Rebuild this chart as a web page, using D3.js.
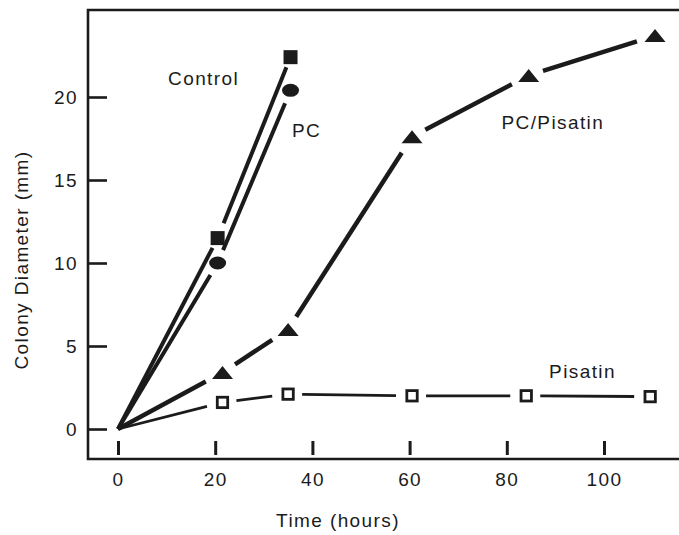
<!DOCTYPE html>
<html>
<head>
<meta charset="utf-8">
<script src="https://cdn.jsdelivr.net/npm/d3@7"></script>
<style>
  body { margin: 0; background: #fff; }
  svg { display: block; font-family: "Liberation Sans", Arial, Helvetica, sans-serif; }
  text { fill: #1b1b1b; letter-spacing: 1.4px; }
</style>
</head>
<body>
<div id="chart"></div>
<script>
// values (time in hours, colony diameter in mm)
const controlTime = [0, 20.5, 35.5]
const controlDiam = [0, 11.5, 22.4]
const pcTime = [0, 20.5, 35.5]
const pcDiam = [0, 10.0, 20.4]
const pcPisatinTime = [0, 21.5, 35, 60.5, 84.5, 110.5]
const pcPisatinDiam = [0, 3.4, 6.0, 17.6, 21.3, 23.7]
const pisatinTime = [0, 21.5, 35, 60.5, 84, 109.5]
const pisatinDiam = [0, 1.6, 2.1, 2.0, 2.0, 1.95]

const xTicks = [0, 20, 40, 60, 80, 100]
const yTicks = [0, 5, 10, 15, 20]

// series labels, placed in data units
const labelNames = ['Control', 'PC', 'PC/Pisatin', 'Pisatin']
const labelTime = [10.3, 35.8, 78.9, 88.7]
const labelDiam = [20.7, 17.6, 18.1, 3.1]

const W = 679, H = 535
const ink = '#1b1b1b'

const svg = d3.select('#chart').append('svg')
  .attr('width', W)
  .attr('height', H)

const x = d3.scaleLinear().domain([0, 100]).range([118, 604])
const y = d3.scaleLinear().domain([0, 20]).range([429, 97])

// frame: left, top and bottom (the right side runs off the page)
const frameLeft = 88, frameTop = 10, frameBottom = 459
svg.append('path')
  .attr('d', `M${W},${frameTop}H${frameLeft}V${frameBottom}H${W}`)
  .attr('fill', 'none')
  .attr('stroke', ink)
  .attr('stroke-width', 2.6)

// y axis, ticks pointing into the plot
const yAxis = svg.append('g')
  .attr('transform', `translate(${frameLeft},0)`)
  .call(d3.axisLeft(y).tickValues(yTicks).tickSizeInner(-19).tickSizeOuter(0).tickPadding(10))
yAxis.select('.domain').remove()
yAxis.selectAll('.tick line').attr('stroke', ink).attr('stroke-width', 2.6)
yAxis.selectAll('.tick text').attr('font-size', 19).attr('fill', ink).attr('font-family', null)

// x axis, short ticks floating just above the bottom line
const xAxis = svg.append('g')
  .attr('transform', 'translate(0,455)')
  .call(d3.axisBottom(x).tickValues(xTicks).tickSizeInner(-14).tickSizeOuter(0).tickPadding(17.5))
xAxis.select('.domain').remove()
xAxis.selectAll('.tick line').attr('stroke', ink).attr('stroke-width', 3)
xAxis.selectAll('.tick text').attr('font-size', 19).attr('fill', ink).attr('font-family', null)

// axis titles
svg.append('text')
  .attr('x', 338).attr('y', 527)
  .attr('text-anchor', 'middle')
  .attr('font-size', 19)
  .text('Time (hours)')

svg.append('text')
  .attr('transform', 'translate(28,260) rotate(-90)')
  .attr('text-anchor', 'middle')
  .attr('font-size', 19)
  .text('Colony Diameter (mm)')

// line segments are broken just short of every marker
function drawSeries(times, diams, width, gapA, gapB) {
  const pts = times.map((t, i) => [x(t), y(diams[i])])
  const segs = []
  for (let i = 0; i < pts.length - 1; i++) {
    const [x0, y0] = pts[i], [x1, y1] = pts[i + 1]
    const len = Math.hypot(x1 - x0, y1 - y0)
    const ux = (x1 - x0) / len, uy = (y1 - y0) / len
    const s = i === 0 ? 0 : gapA
    segs.push([[x0 + ux * s, y0 + uy * s], [x1 - ux * gapB, y1 - uy * gapB]])
  }
  svg.append('g').selectAll('line').data(segs).join('line')
    .attr('x1', d => d[0][0]).attr('y1', d => d[0][1])
    .attr('x2', d => d[1][0]).attr('y2', d => d[1][1])
    .attr('stroke', ink)
    .attr('stroke-width', width)
    .attr('stroke-linecap', 'butt')
  return pts.slice(1)
}

const ctrlPts = drawSeries(controlTime, controlDiam, 4, 16, 11)
const pcPts = drawSeries(pcTime, pcDiam, 4, 14, 14)
const pcpPts = drawSeries(pcPisatinTime, pcPisatinDiam, 4.5, 15, 19)
const pisPts = drawSeries(pisatinTime, pisatinDiam, 2.8, 14, 16)

// markers
svg.append('g').selectAll('rect').data(ctrlPts).join('rect')
  .attr('x', d => d[0] - 7).attr('y', d => d[1] - 7)
  .attr('width', 14).attr('height', 14)
  .attr('fill', ink)

svg.append('g').selectAll('ellipse').data(pcPts).join('ellipse')
  .attr('cx', d => d[0]).attr('cy', d => d[1])
  .attr('rx', 8.5).attr('ry', 6.5)
  .attr('fill', ink)

svg.append('g').selectAll('path').data(pcpPts).join('path')
  .attr('d', d => `M${d[0] - 10.5},${d[1] + 6.5}L${d[0] + 10.5},${d[1] + 6.5}L${d[0]},${d[1] - 6.5}Z`)
  .attr('fill', ink)

svg.append('g').selectAll('rect').data(pisPts).join('rect')
  .attr('x', d => d[0] - 5.2).attr('y', d => d[1] - 5.2)
  .attr('width', 10.4).attr('height', 10.4)
  .attr('fill', '#fff')
  .attr('stroke', ink)
  .attr('stroke-width', 2.8)

// series labels
svg.append('g').selectAll('text').data(labelNames).join('text')
  .attr('x', (d, i) => x(labelTime[i]))
  .attr('y', (d, i) => y(labelDiam[i]))
  .attr('font-size', 19)
  .text(d => d)
</script>
</body>
</html>
